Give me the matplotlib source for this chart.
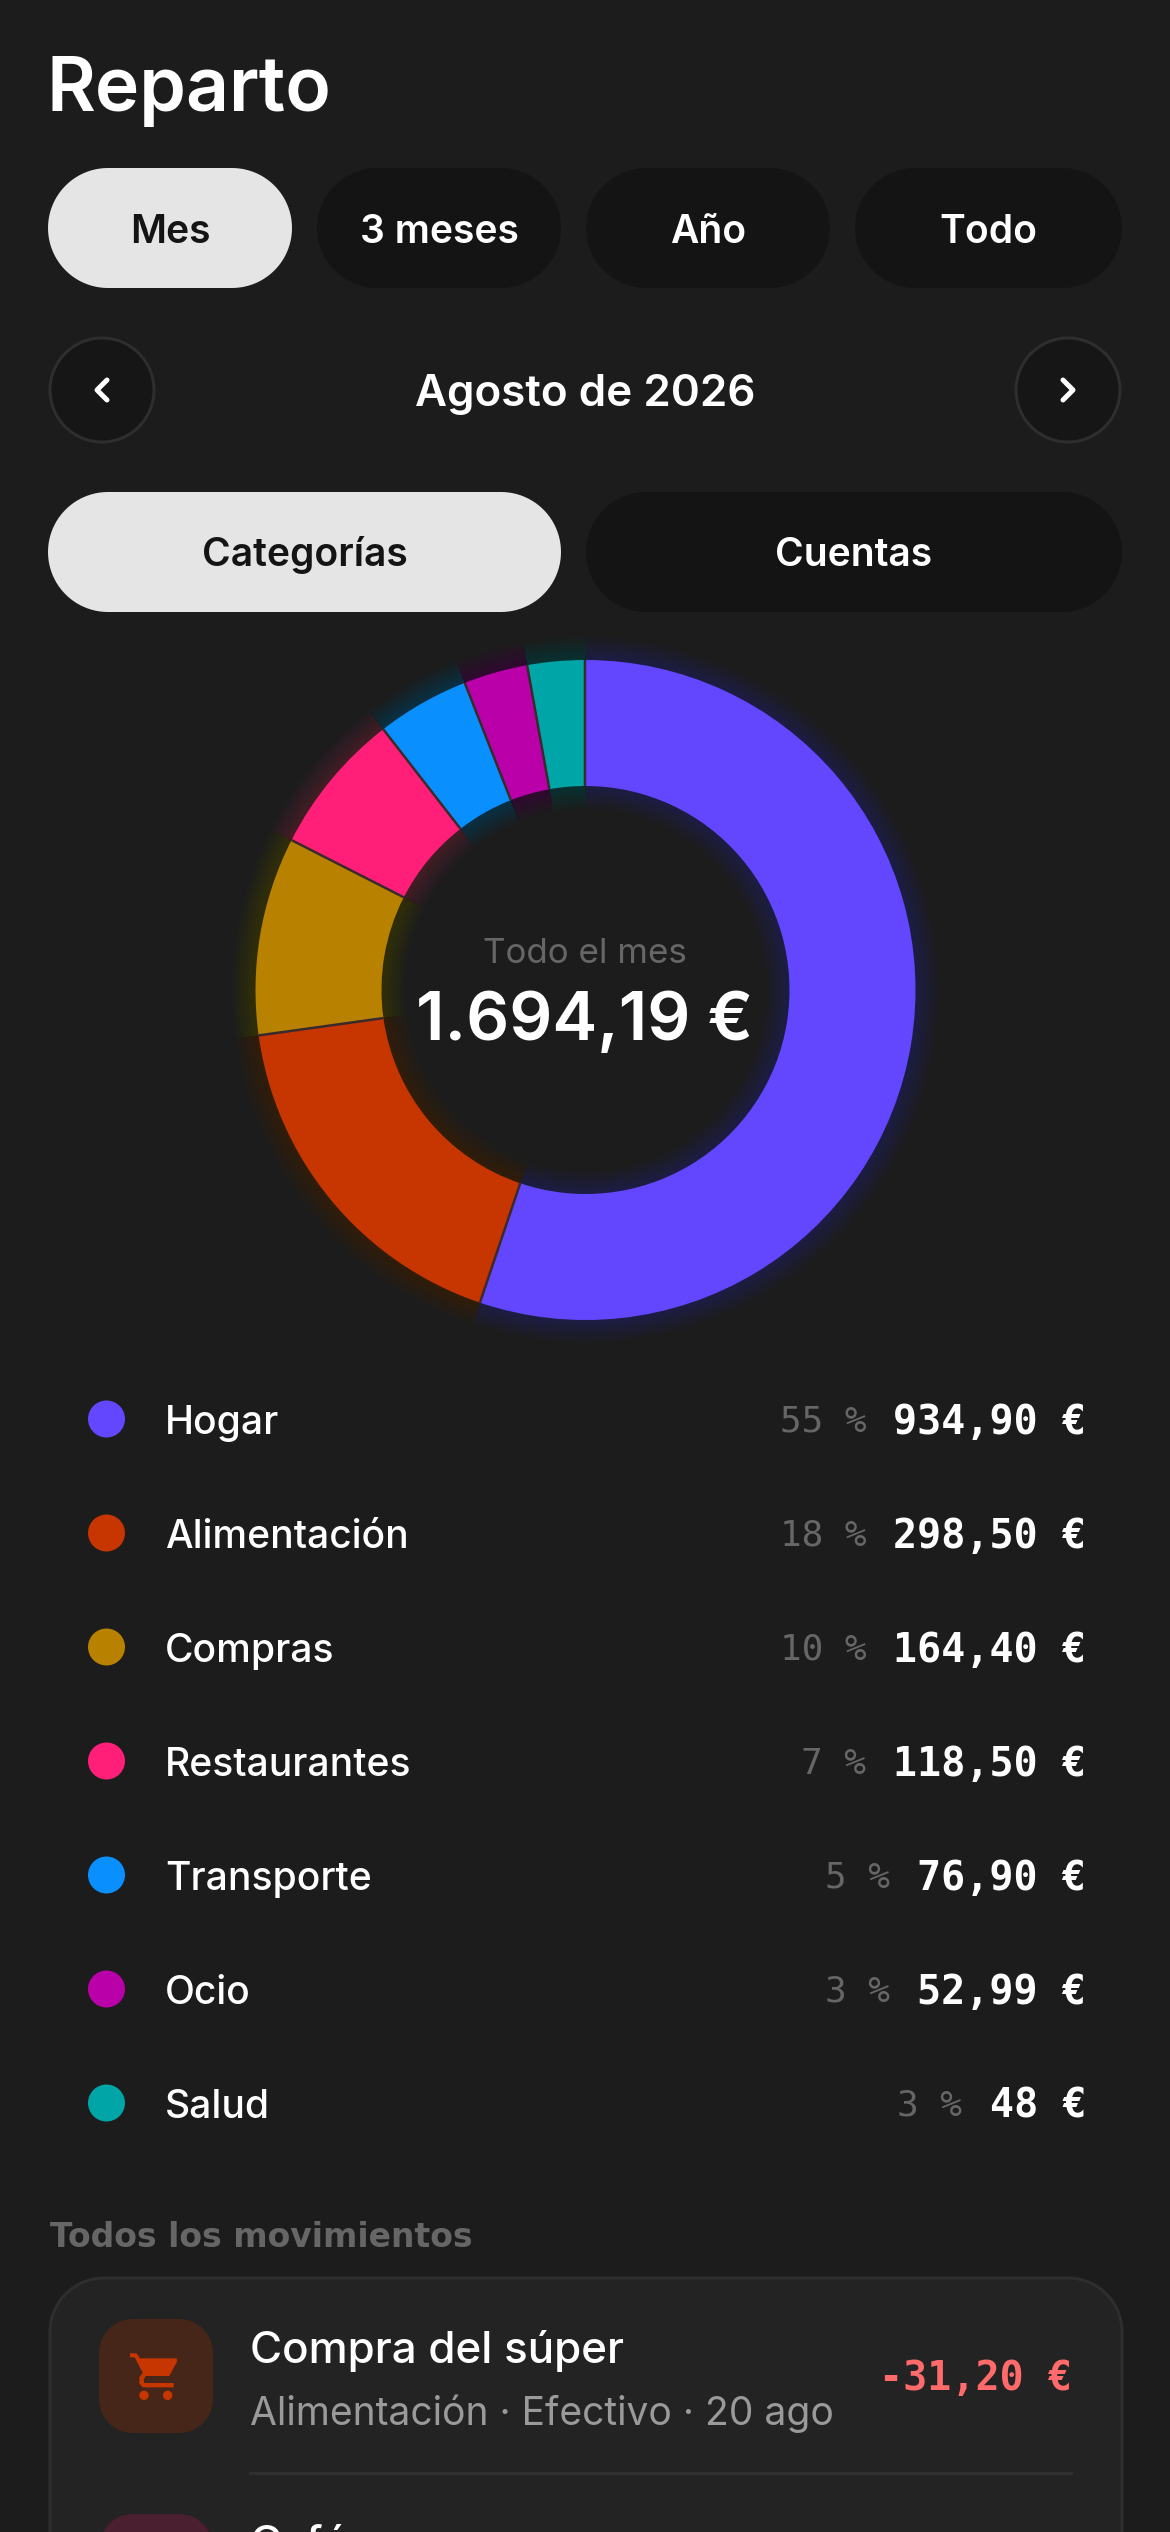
import matplotlib
matplotlib.use('Agg')
import matplotlib.pyplot as plt
import numpy as np
from matplotlib.patches import Circle, Wedge, Polygon

plt.rcParams['font.family'] = ['Inter', 'DejaVu Sans']

# data
categories = ['Hogar', 'Alimentación', 'Compras', 'Restaurantes', 'Transporte', 'Ocio', 'Salud']
values = [934.90, 298.50, 164.40, 118.50, 76.90, 52.99, 48]
amount_labels = ['934,90 €', '298,50 €', '164,40 €', '118,50 €', '76,90 €', '52,99 €', '48 €']
percent_labels = ['55 %', '18 %', '10 %', '7 %', '5 %', '3 %', '3 %']
colors = ['#6347FF', '#C73600', '#B88100', '#FF1F78', '#0A8FFF', '#BA00A8', '#00A5A8']
period_tabs = ['Mes', '3 meses', 'Año', 'Todo']
view_tabs = ['Categorías', 'Cuentas']

BG = '#1C1C1C'
DARK = '#141414'
LIGHT = '#E5E5E5'
PX = 0.72  # px to pt at dpi 100

fig = plt.figure(figsize=(11.7, 25.32), dpi=100, facecolor=BG)
ax = fig.add_axes([0, 0, 1, 1])
ax.set_xlim(0, 1170)
ax.set_ylim(2532, 0)
ax.axis('off')


def pill(x0, y0, x1, y1, r, fc, ec='none', lw=0):
    # true circular corners, the round boxstyle comes out too square
    t = np.linspace(0, np.pi / 2, 24)
    xs = np.concatenate([x1 - r + r * np.sin(t), x1 - r + r * np.cos(t), x0 + r - r * np.sin(t), x0 + r - r * np.cos(t)])
    ys = np.concatenate([y0 + r - r * np.cos(t), y1 - r + r * np.sin(t), y1 - r + r * np.cos(t), y0 + r - r * np.sin(t)])
    p = Polygon(np.column_stack([xs, ys]), closed=True, fc=fc, ec=ec, lw=lw * PX)
    ax.add_patch(p)
    return p


def txt(x, y, s, size, color='white', weight=500, ha='left', family=None):
    return ax.text(x, y, s, fontsize=size * PX, color=color, fontweight=weight, ha=ha, va='baseline',
                   family=family if family else ['Inter', 'DejaVu Sans'])


txt(47, 111, 'Reparto', 75, weight=600)

# period tabs
period_x = [(48, 292), (317, 561), (586, 830), (855, 1122)]
for i, (name, (x0, x1)) in enumerate(zip(period_tabs, period_x)):
    on = i == 0
    pill(x0, 168, x1, 288, 60, LIGHT if on else DARK)
    txt((x0 + x1) / 2, 243, name, 39, '#141414' if on else 'white', 600, 'center')

# month nav
for cx in (102, 1068):
    ax.add_patch(Circle((cx, 390), 52, fc='#161616', ec='#2E2E2E', lw=3 * PX))
ax.plot([107, 97, 107], [380, 390, 400], color='white', lw=5 * PX, solid_capstyle='round', solid_joinstyle='round')
ax.plot([1063, 1073, 1063], [380, 390, 400], color='white', lw=5 * PX, solid_capstyle='round', solid_joinstyle='round')
txt(585, 406, 'Agosto de 2026', 44, 'white', 600, 'center')

# view tabs
view_x = [(48, 561), (586, 1122)]
for i, (name, (x0, x1)) in enumerate(zip(view_tabs, view_x)):
    on = i == 0
    pill(x0, 492, x1, 612, 60, LIGHT if on else DARK)
    txt((x0 + x1) / 2, 566, name, 39, '#141414' if on else 'white', 600, 'center')

# donut
R = 330
cx, cy = 585.5, 990
pad = 30
dax = fig.add_axes([(cx - R - pad) / 1170, 1 - (cy + R + pad) / 2532, (2 * R + 2 * pad) / 1170, (2 * R + 2 * pad) / 2532])
wedges, _ = dax.pie(values, colors=colors, startangle=90, counterclock=False, radius=1,
                    wedgeprops=dict(width=126 / R, edgecolor='none'))
for w in wedges:
    w.set_zorder(5)
    # soft glow around each slice
    for k in range(1, 21):
        g = Wedge(w.center, 1 + k * 1.2 / R, w.theta1, w.theta2, width=(126 + 2.4 * k) / R,
                  fc=w.get_facecolor(), ec='none', alpha=0.011, zorder=1)
        dax.add_patch(g)
    # separator between slices
    a = np.deg2rad(w.theta1)
    dax.plot([(R - 126) / R * np.cos(a), np.cos(a)], [(R - 126) / R * np.sin(a), np.sin(a)],
             color='#3A2A2C', lw=2.5 * PX, zorder=6, solid_capstyle='butt')
dax.set_xlim(-(R + pad) / R, (R + pad) / R)
dax.set_ylim(-(R + pad) / R, (R + pad) / R)
dax.set_aspect('equal')
dax.patch.set_alpha(0)

txt(585, 963, 'Todo el mes', 35, '#666666', 400, 'center')
txt(585, 1040, '1.694,19 €', 67.5, 'white', 600, 'center')

# legend rows
MONO = ['DejaVu Sans Mono', 'Liberation Mono']
for i, name in enumerate(categories):
    y = 1419 + 114 * i
    ax.add_patch(Circle((106.5, y), 18.5, fc=colors[i], ec='none'))
    txt(165, y + 15, name, 39, 'white', 500)
    amount = amount_labels[i]
    txt(1086, y + 15, amount, 40, 'white', 'bold', 'right', MONO)
    txt(1086 - 24 * len(amount) - 28, y + 13, percent_labels[i], 36, '#666666', 'normal', 'right', MONO)

# movements
txt(50, 2247, 'Todos los movimientos', 33, '#666666', 600, family=['DejaVu Sans'])
pill(50, 2278, 1122, 2640, 54, '#232323', '#2E2E2E', 3)

pill(99, 2319, 213, 2433, 34, '#452619')
ic = '#C73600'


def crop(pts):
    return [(80 + a / 3, 2300 + b / 3) for a, b in pts]


ax.add_patch(Polygon(crop([(150, 160), (170, 160), (180, 175), (290, 175), (292, 183), (268, 228), (197, 228),
                           (190, 240), (281, 240), (281, 262), (188, 262), (178, 250), (178, 232), (188, 218), (164, 172), (150, 172)]),
                     fc=ic, ec='none'))
ax.add_patch(Polygon(crop([(193, 240), (281, 240), (281, 250), (193, 250)]), fc='#452619', ec='none'))
ax.add_patch(Circle((80 + 192 / 3, 2300 + 286 / 3), 14 / 3, fc=ic, ec='none'))
ax.add_patch(Circle((80 + 263 / 3, 2300 + 286 / 3), 14 / 3, fc=ic, ec='none'))

txt(250, 2363, 'Compra del súper', 44, 'white', 500)
txt(250, 2425, 'Alimentación · Efectivo · 20 ago', 39, '#9A9A9A', 400)
txt(1072, 2390, '-31,20 €', 40, '#FF6B6B', 'bold', 'right', MONO)
ax.plot([250, 1071], [2473, 2473], color='#303030', lw=3 * PX)

pill(99, 2514, 213, 2628, 34, '#4A1F30')
txt(250, 2557, 'Café', 44, 'white', 500)

fig.savefig('out.png', dpi=100, facecolor=BG)
